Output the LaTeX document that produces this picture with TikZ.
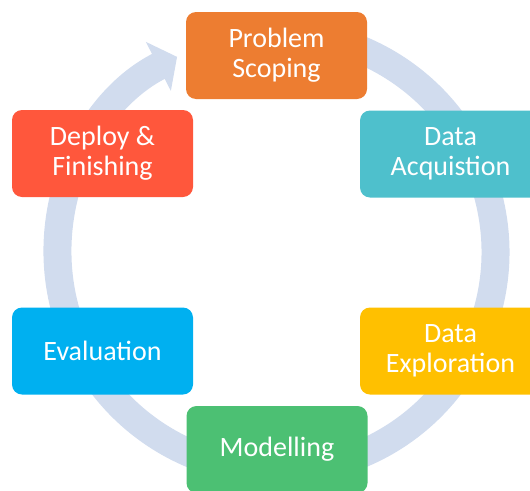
\documentclass[tikz,border=0pt]{standalone}
\usepackage{fontspec}
\setmainfont{Carlito}
\usetikzlibrary{arrows.meta}
\definecolor{ringc}{RGB}{209,220,238}
\definecolor{cPS}{RGB}{237,125,49}
\definecolor{cDF}{RGB}{255,87,60}
\definecolor{cDA}{RGB}{78,192,204}
\definecolor{cEV}{RGB}{0,176,240}
\definecolor{cMO}{RGB}{76,192,115}
\definecolor{cDE}{RGB}{255,192,0}
\tikzset{
  stagebox/.style={rounded corners=10pt, minimum width=181pt, minimum height=87pt,
    inner sep=0pt, text=white, align=center, font=\fontsize{28}{30}\selectfont},
  ring/.style={draw=ringc, line width=28pt, -{Triangle[width=54pt,length=21pt]}}
}
\begin{document}
\begin{tikzpicture}[x=1pt,y=-1pt]
\useasboundingbox (0,0) rectangle (530,490);
\clip (0,0) rectangle (530,490);
\coordinate (c) at (276.5,252);
\draw[ring] (c) ++(-100:219) arc[start angle=-100, end angle=243, radius=219];
\node[stagebox, fill=cPS] (ps) at (276.5,55.5) {Problem\\Scoping};
\node[stagebox, fill=cDF] (df) at (102.5,153.5) {Deploy \&\\Finishing};
\node[stagebox, fill=cDA] (da) at (450.5,154) {Data\\Acquistion};
\node[stagebox, fill=cEV] (ev) at (102.5,351) {Evaluation};
\node[stagebox, fill=cMO] (mo) at (277,449.5) {Modelling};
\node[stagebox, fill=cDE] (de) at (450.5,351) {Data\\Exploration};
\end{tikzpicture}
\end{document}
